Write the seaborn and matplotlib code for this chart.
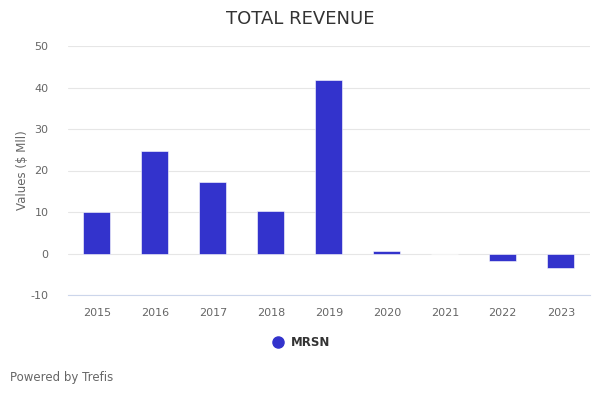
import pandas as pd
import matplotlib
matplotlib.use("Agg")
import matplotlib.pyplot as plt
import seaborn as sns

years = ['2015', '2016', '2017', '2018', '2019', '2020', '2021', '2022', '2023']
revenue = [10.1, 24.8, 17.3, 10.3, 41.7, 0.7, 0.0, -1.7, -3.4]
series_name = 'MRSN'
bar_color = '#3333CC'

df = pd.DataFrame({'Year': years, 'Value': revenue})

sns.set_style('white')
plt.rcParams['font.family'] = ['DejaVu Sans']
plt.rcParams['axes.unicode_minus'] = False

fig = plt.figure(figsize=(6, 4), dpi=100)
ax = fig.add_axes([0.113, 0.2625, 0.87, 0.6225])

sns.barplot(x='Year', y='Value', data=df, color=bar_color, width=0.46,
            edgecolor='white', linewidth=0.4, saturation=1, ax=ax, zorder=3)

ax.set_ylim(-10, 50)
ax.set_yticks(range(-10, 51, 10))
ax.set_xlim(-0.5, len(years) - 0.5)
ax.yaxis.grid(True, color='#e6e6e6', linewidth=0.8, zorder=0)
ax.set_axisbelow(True)
for s in ['top', 'right', 'left']:
    ax.spines[s].set_visible(False)
ax.spines['bottom'].set_color('#ccd6eb')
ax.spines['bottom'].set_linewidth(0.8)
ax.tick_params(axis='both', length=0, labelsize=8, labelcolor='#666666')
ax.tick_params(axis='x', pad=9)
ax.tick_params(axis='y', pad=14)
ax.set_xlabel('')
ax.set_ylabel('Values ($ Mll)', fontsize=8.5, color='#666666', labelpad=1)

fig.text(0.5, 0.953, 'TOTAL REVENUE', ha='center', va='center', fontsize=13, color='#333333')

# legend
fig.lines.append(plt.Line2D([0.463], [0.145], marker='o', markersize=8, color=bar_color,
                            linestyle='', transform=fig.transFigure))
fig.text(0.485, 0.143, series_name, ha='left', va='center', fontsize=8.5,
         fontweight='bold', color='#333333')

fig.text(0.017, 0.055, 'Powered by Trefis', ha='left', va='center', fontsize=8.5, color='#666666')

fig.savefig('out.png', dpi=100, facecolor='white')
